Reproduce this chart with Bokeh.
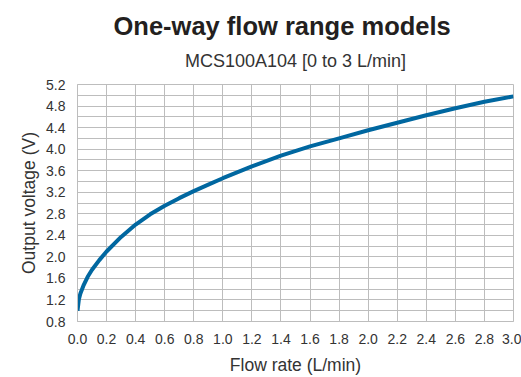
from bokeh.plotting import figure
from bokeh.models import Range1d, FixedTicker, Title, ColumnDataSource
from bokeh.embed import file_html
from bokeh.resources import INLINE

title_text = "One-way flow range models"
subtitle_text = "MCS100A104 [0 to 3 L/min]"
x_label = "Flow rate (L/min)"
y_label = "Output voltage (V)"

flow = [0.0, 0.01, 0.02, 0.04, 0.07, 0.1, 0.15, 0.2, 0.3, 0.4, 0.5, 0.6, 0.7, 0.8, 0.9,
        1.0, 1.2, 1.4, 1.6, 1.8, 2.0, 2.2, 2.4, 2.6, 2.8, 3.0]
voltage = [1.0, 1.22, 1.32, 1.46, 1.63, 1.76, 1.94, 2.1, 2.37, 2.6, 2.79, 2.95, 3.09, 3.22, 3.34,
           3.46, 3.68, 3.88, 4.05, 4.20, 4.35, 4.49, 4.63, 4.76, 4.88, 4.98]

x_ticks = [0.0, 0.2, 0.4, 0.6, 0.8, 1.0, 1.2, 1.4, 1.6, 1.8, 2.0, 2.2, 2.4, 2.6, 2.8, 3.0]
x_tick_labels = ["0.0", "0.2", "0.4", "0.6", "0.8", "1.0", "1.2", "1.4", "1.6", "1.8",
                 "2.0", "2.2", "2.4", "2.6", "2.8", "3.0"]
y_ticks = [0.8, 1.2, 1.6, 2.0, 2.4, 2.8, 3.2, 3.6, 4.0, 4.4, 4.8, 5.2]
y_tick_labels = ["0.8", "1.2", "1.6", "2.0", "2.4", "2.8", "3.2", "3.6", "4.0", "4.4", "4.8", "5.2"]
y_grid_lines = [0.8, 1.0, 1.2, 1.4, 1.6, 1.8, 2.0, 2.2, 2.4, 2.6, 2.8, 3.0, 3.2, 3.4, 3.6,
                3.8, 4.0, 4.2, 4.4, 4.6, 4.8, 5.0, 5.2]

FONT = "Liberation Sans"
GRID = "#bdbdbd"
TXT = "#333333"

p = figure(width=521, height=377, output_backend="svg", toolbar_location=None,
           x_range=Range1d(0, 3.0), y_range=Range1d(0.8, 5.2),
           min_border_left=77, min_border_right=8, min_border_top=84, min_border_bottom=50,
           background_fill_color="white", border_fill_color="white")

p.add_layout(Title(text=subtitle_text, align="center", text_font=FONT, text_font_size="18px",
                   text_font_style="normal", text_color=TXT, standoff=28), "above")
p.add_layout(Title(text=title_text, align="left", text_font=FONT, text_font_size="25.5px",
                   text_font_style="bold", text_color="#231f20", offset=36, standoff=-10), "above")

p.outline_line_color = GRID
p.outline_line_width = 1

xt = FixedTicker(ticks=x_ticks)
p.xaxis.ticker = xt
p.xgrid.ticker = xt
p.yaxis.ticker = FixedTicker(ticks=y_ticks)
p.ygrid.ticker = FixedTicker(ticks=y_grid_lines)
p.xaxis.major_label_overrides = {t: l for t, l in zip(x_ticks, x_tick_labels)}
p.yaxis.major_label_overrides = {t: l for t, l in zip(y_ticks, y_tick_labels)}

for ax in (p.xaxis[0], p.yaxis[0]):
    ax.major_tick_line_color = None
    ax.minor_tick_line_color = None
    ax.axis_line_color = GRID
    ax.major_label_text_font = FONT
    ax.major_label_text_font_size = "14px"
    ax.major_label_text_color = TXT
    ax.axis_label_text_font = FONT
    ax.axis_label_text_font_size = "17.5px"
    ax.axis_label_text_font_style = "normal"
    ax.axis_label_text_color = TXT

p.xaxis.axis_label = x_label
p.yaxis.axis_label = y_label
p.xaxis.major_label_standoff = 6
p.yaxis.major_label_standoff = 6
p.xaxis.axis_label_standoff = 8
p.yaxis.axis_label_standoff = 4

p.xgrid.grid_line_color = GRID
p.xgrid.grid_line_width = 1
p.ygrid.grid_line_color = GRID
p.ygrid.grid_line_width = 1

src = ColumnDataSource(dict(x=flow, y=voltage))
p.line("x", "y", source=src, line_color="#0067a0", line_width=4)

open("out.html", "w").write(file_html(p, INLINE))
